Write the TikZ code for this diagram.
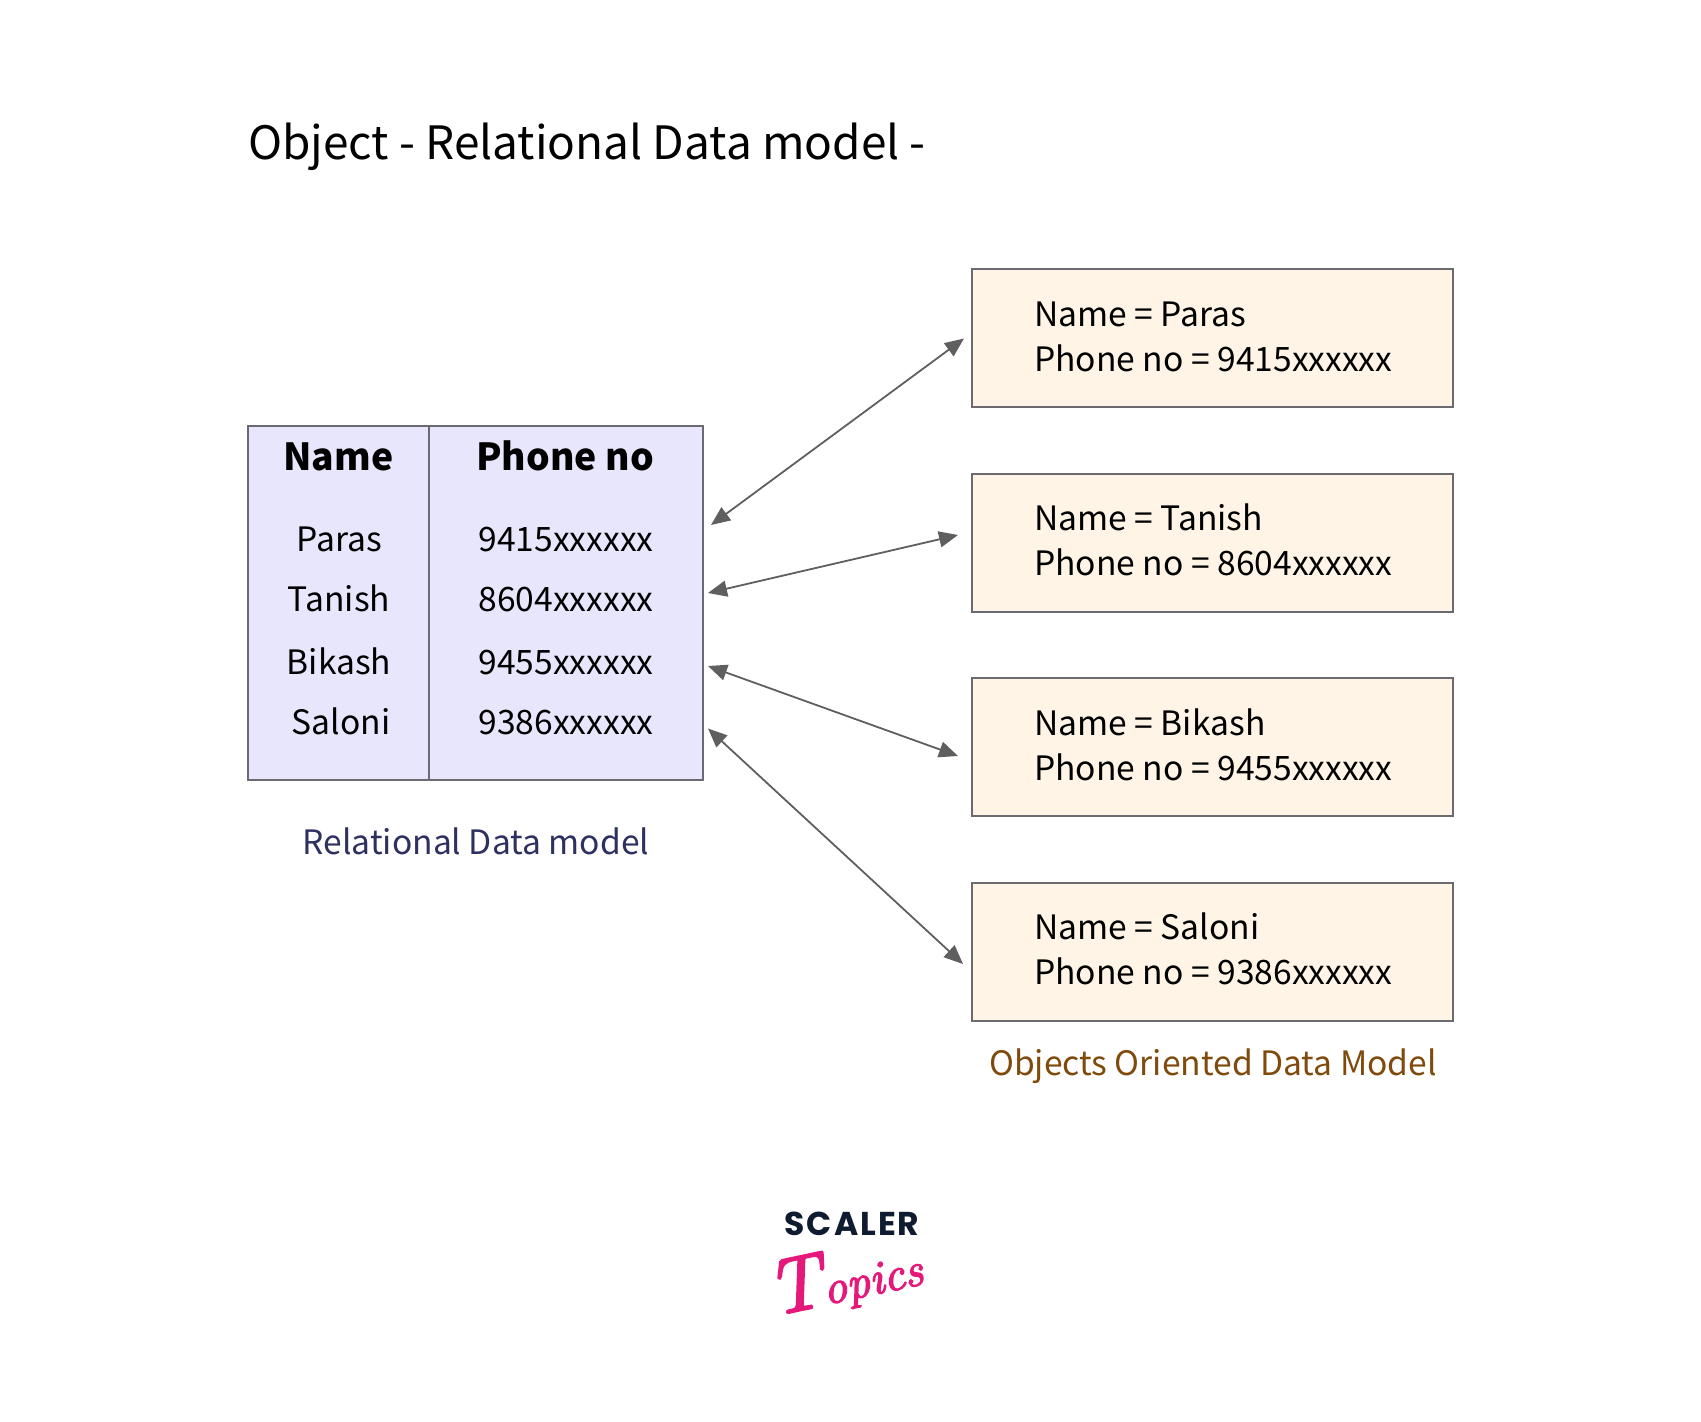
\documentclass[tikz,border=0pt]{standalone}
\usepackage{fontspec}
\usetikzlibrary{arrows.meta}
\setmainfont{Noto Sans CJK SC}
\newfontfamily\logofont[LetterSpace=6]{Poppins}
\newfontfamily\topicsfont[ItalicFeatures={FakeBold=3}]{Latin Modern Roman}
\definecolor{tblfill}{HTML}{E8E6FC}
\definecolor{boxfill}{HTML}{FFF4E6}
\definecolor{edgegray}{HTML}{6A6A70}
\definecolor{arrowgray}{HTML}{5F5F5F}
\definecolor{relblue}{HTML}{2E3160}
\definecolor{objbrown}{HTML}{7F4A0C}
\definecolor{logonavy}{HTML}{0E1B30}
\definecolor{logopink}{HTML}{E5197B}
\tikzset{
  x=1pt,y=-1pt,
  tablebox/.style={draw=edgegray,fill=tblfill,line width=2pt,minimum width=455pt,minimum height=354pt,inner sep=0pt,anchor=north west},
  objbox/.style={draw=edgegray,fill=boxfill,line width=2pt,minimum width=481pt,minimum height=138pt,inner sep=0pt,anchor=north west},
  cellhead/.style={font=\bfseries\fontsize{37.3}{37.3}\selectfont,anchor=base,inner sep=0pt},
  cellbody/.style={font=\fontsize{33.6}{33.6}\selectfont,anchor=base,inner sep=0pt},
  objline/.style={font=\fontsize{33.6}{33.6}\selectfont,anchor=base west,inner sep=0pt},
  link/.style={draw=arrowgray,line width=1.8pt,{Triangle[length=19pt,width=16pt,fill=arrowgray]}-{Triangle[length=19pt,width=16pt,fill=arrowgray]}},
}
\begin{document}
\begin{tikzpicture}
\useasboundingbox (0,0) rectangle (1701,1422);
\node[anchor=base west,inner sep=0pt,font=\fontsize{45.95}{46}\selectfont] (title) at (248,159) {Object - Relational Data model -};

\node[tablebox] (tbl) at (247,424.5) {};
\coordinate (divtop) at (429,424.5);
\coordinate (divbot) at (429,778.5);
\draw[edgegray,line width=1.8pt] (divtop) -- (divbot);

\node[cellhead] (hname) at (338.5,470) {Name};
\node[cellhead] (hphone) at (565,470) {Phone no};
\node[cellbody] (n1) at (339.5,551) {Paras};
\node[cellbody] (n2) at (339,611) {Tanish};
\node[cellbody] (n3) at (339,674) {Bikash};
\node[cellbody] (n4) at (341,734) {Saloni};
\node[cellbody] (p1) at (566,551) {9415xxxxxx};
\node[cellbody] (p2) at (566,611) {8604xxxxxx};
\node[cellbody] (p3) at (566,674) {9455xxxxxx};
\node[cellbody] (p4) at (566,734) {9386xxxxxx};

\node[objbox] (o1) at (971,268) {};
\node[objbox] (o2) at (971,472.5) {};
\node[objbox] (o3) at (971,677) {};
\node[objbox] (o4) at (971,881.5) {};

\node[objline] (a1) at (1034,326) {Name = Paras};
\node[objline] (b1) at (1034,371) {Phone no = 9415xxxxxx};
\node[objline] (a2) at (1034,530) {Name = Tanish};
\node[objline] (b2) at (1034,575) {Phone no = 8604xxxxxx};
\node[objline] (a3) at (1034,735) {Name = Bikash};
\node[objline] (b3) at (1034,780) {Phone no = 9455xxxxxx};
\node[objline] (a4) at (1034,939) {Name = Saloni};
\node[objline] (b4) at (1034,984) {Phone no = 9386xxxxxx};

\node[cellbody,text=relblue] (lrel) at (476,854) {Relational Data model};
\node[cellbody,text=objbrown] (lobj) at (1213,1075) {Objects Oriented Data Model};

\draw[link] ([shift={(7,-77.5)}]tbl.east) -- ([shift={(-7,0.5)}]o1.west);
\draw[link] ([shift={(4,-9.5)}]tbl.east) -- ([shift={(-13,-7.5)}]o2.west);
\draw[link] ([shift={(4,63.5)}]tbl.east) -- ([shift={(-13,9)}]o3.west);
\draw[link] ([shift={(4,126)}]tbl.east) -- ([shift={(-8,12.5)}]o4.west);

\node[anchor=base,inner sep=0pt,text=logonavy,font=\logofont\fontsize{33}{33}\selectfont\bfseries] (scaler) at (852,1235) {SCALER};
\node[anchor=base,inner sep=0pt,text=logopink,rotate=12,font=\topicsfont\itshape] (topics) at (849,1300)
  {\fontsize{78}{78}\selectfont T\fontsize{47}{47}\selectfont opics};
\end{tikzpicture}
\end{document}
